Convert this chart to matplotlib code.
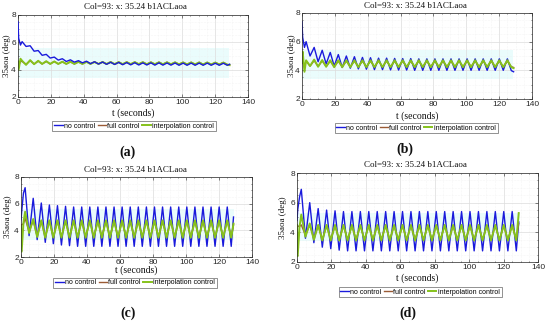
import matplotlib
matplotlib.use("Agg")
import matplotlib.pyplot as plt
from matplotlib.ticker import MultipleLocator

W, H = 550, 321

# time knots (s): start transient, then alternating peak / trough, then end
t_knots = [0.0, 0.4, 1.5,
           2.5, 4.9, 7.4, 9.8, 12.3, 14.7, 17.2, 19.6, 22.1, 24.5,
           27.0, 29.4, 31.9, 34.3, 36.8, 39.2, 41.7, 44.1, 46.6, 49.0,
           51.5, 53.9, 56.4, 58.8, 61.3, 63.7, 66.2, 68.6, 71.1, 73.5,
           76.0, 78.4, 80.9, 83.3, 85.8, 88.2, 90.7, 93.1, 95.6, 98.0,
           100.5, 102.9, 105.4, 107.8, 110.3, 112.7, 115.2, 117.6, 120.1, 122.5,
           125.0, 127.4, 128.8]

# panel (a)
no_ctrl_a = [7.5, 6.3, 5.8,
             6.05, 5.7, 5.75, 5.35, 5.4, 5.05, 5.12, 4.85, 4.92, 4.7,
             4.8, 4.6, 4.72, 4.55, 4.66, 4.5, 4.62, 4.44, 4.58, 4.41,
             4.56, 4.39, 4.54, 4.38, 4.53, 4.36, 4.52, 4.35, 4.51, 4.34,
             4.5, 4.34, 4.5, 4.33, 4.5, 4.33, 4.49, 4.33, 4.49, 4.32,
             4.48, 4.32, 4.48, 4.32, 4.48, 4.32, 4.48, 4.32, 4.47, 4.32,
             4.47, 4.32, 4.4]
interp_a = [4.6, 4.0, 4.8,
            4.65, 4.35, 4.7, 4.4, 4.65, 4.42, 4.62, 4.42, 4.6, 4.42,
            4.58, 4.42, 4.58, 4.42, 4.57, 4.42, 4.57, 4.42, 4.56, 4.42,
            4.56, 4.42, 4.56, 4.41, 4.55, 4.41, 4.55, 4.41, 4.55, 4.41,
            4.55, 4.4, 4.54, 4.4, 4.54, 4.4, 4.54, 4.4, 4.54, 4.39,
            4.53, 4.39, 4.53, 4.39, 4.53, 4.38, 4.53, 4.38, 4.52, 4.38,
            4.52, 4.37, 4.33]
full_a = [4.5, 4.3, 4.6,
          4.6, 4.4, 4.65, 4.42, 4.62, 4.42, 4.6, 4.42, 4.6, 4.42,
          4.58, 4.42, 4.58, 4.42, 4.58, 4.42, 4.58, 4.42, 4.57, 4.42,
          4.57, 4.41, 4.57, 4.4, 4.56, 4.4, 4.56, 4.4, 4.56, 4.4,
          4.55, 4.4, 4.55, 4.4, 4.55, 4.39, 4.55, 4.39, 4.54, 4.39,
          4.54, 4.38, 4.54, 4.38, 4.54, 4.38, 4.53, 4.38, 4.53, 4.38,
          4.53, 4.37, 4.35]

# panel (b)
no_ctrl_b = [7.4, 6.3, 5.6,
             6.0, 5.0, 5.6, 4.6, 5.4, 4.45, 5.25, 4.3, 5.1, 4.2,
             5.0, 4.15, 4.95, 4.1, 4.9, 4.08, 4.88, 4.05, 4.85, 4.05,
             4.85, 4.03, 4.83, 4.02, 4.82, 4.02, 4.82, 4.0, 4.8, 4.0,
             4.8, 4.0, 4.8, 4.0, 4.8, 4.0, 4.8, 4.0, 4.8, 4.0,
             4.8, 4.0, 4.8, 4.0, 4.8, 4.0, 4.8, 4.0, 4.8, 4.0,
             4.8, 3.98, 3.9]
interp_b = [4.5, 5.3, 3.9,
            4.7, 4.3, 4.75, 4.25, 4.72, 4.25, 4.7, 4.22, 4.7, 4.22,
            4.7, 4.22, 4.7, 4.22, 4.7, 4.22, 4.7, 4.22, 4.7, 4.22,
            4.7, 4.22, 4.7, 4.22, 4.7, 4.22, 4.7, 4.22, 4.7, 4.22,
            4.7, 4.22, 4.7, 4.22, 4.7, 4.22, 4.7, 4.22, 4.7, 4.22,
            4.7, 4.22, 4.7, 4.22, 4.7, 4.22, 4.7, 4.22, 4.7, 4.22,
            4.7, 4.22, 4.15]
full_b = [4.5, 4.8, 4.2,
          4.65, 4.3, 4.68, 4.28, 4.66, 4.27, 4.65, 4.25, 4.65, 4.25,
          4.65, 4.25, 4.65, 4.25, 4.65, 4.25, 4.65, 4.25, 4.65, 4.25,
          4.65, 4.25, 4.65, 4.25, 4.65, 4.25, 4.65, 4.25, 4.65, 4.25,
          4.65, 4.25, 4.65, 4.25, 4.65, 4.25, 4.65, 4.25, 4.65, 4.25,
          4.65, 4.25, 4.65, 4.25, 4.65, 4.25, 4.65, 4.25, 4.65, 4.25,
          4.65, 4.25, 4.2]

# panel (c)
no_ctrl_c = [4.8, 5.4, 6.8,
             7.2, 3.6, 6.4, 3.3, 6.05, 3.1, 5.9, 3.0, 5.85, 2.9,
             5.8, 2.85, 5.75, 2.8, 5.75, 2.8, 5.75, 2.8, 5.75, 2.8,
             5.75, 2.8, 5.75, 2.8, 5.75, 2.8, 5.75, 2.8, 5.75, 2.8,
             5.75, 2.8, 5.75, 2.8, 5.75, 2.8, 5.75, 2.8, 5.75, 2.8,
             5.75, 2.8, 5.75, 2.8, 5.75, 2.8, 5.75, 2.8, 5.75, 2.8,
             5.75, 2.8, 5.0]
interp_c = [4.3, 2.4, 4.6,
            5.4, 3.8, 4.85, 3.5, 4.75, 3.45, 4.75, 3.45, 4.75, 3.45,
            4.75, 3.45, 4.75, 3.45, 4.75, 3.45, 4.75, 3.45, 4.75, 3.45,
            4.75, 3.45, 4.75, 3.45, 4.75, 3.45, 4.75, 3.45, 4.75, 3.45,
            4.75, 3.45, 4.75, 3.45, 4.75, 3.45, 4.75, 3.45, 4.75, 3.45,
            4.75, 3.45, 4.75, 3.45, 4.75, 3.45, 4.75, 3.45, 4.75, 3.45,
            4.75, 3.45, 4.5]
full_c = [4.4, 4.4, 4.5,
          4.9, 3.9, 4.75, 3.55, 4.7, 3.5, 4.7, 3.5, 4.7, 3.5,
          4.7, 3.5, 4.7, 3.5, 4.7, 3.5, 4.7, 3.5, 4.7, 3.5,
          4.7, 3.5, 4.7, 3.5, 4.7, 3.5, 4.7, 3.5, 4.7, 3.5,
          4.7, 3.5, 4.7, 3.5, 4.7, 3.5, 4.7, 3.5, 4.7, 3.5,
          4.7, 3.5, 4.7, 3.5, 4.7, 3.5, 4.7, 3.5, 4.7, 3.5,
          4.7, 3.5, 4.4]

# panel (d)
no_ctrl_d = [4.8, 5.5, 6.4,
             6.9, 3.6, 6.0, 3.3, 5.6, 3.0, 5.5, 2.9, 5.45, 2.8,
             5.4, 2.75, 5.4, 2.75, 5.4, 2.75, 5.4, 2.75, 5.4, 2.75,
             5.4, 2.75, 5.4, 2.75, 5.4, 2.75, 5.4, 2.75, 5.4, 2.75,
             5.4, 2.75, 5.4, 2.75, 5.4, 2.75, 5.4, 2.75, 5.4, 2.75,
             5.4, 2.75, 5.4, 2.75, 5.4, 2.75, 5.4, 2.75, 5.4, 2.75,
             5.4, 2.75, 4.7]
interp_d = [4.5, 2.4, 4.4,
            5.2, 3.7, 4.6, 3.5, 4.5, 3.45, 4.5, 3.45, 4.5, 3.45,
            4.5, 3.45, 4.5, 3.45, 4.5, 3.45, 4.5, 3.45, 4.5, 3.45,
            4.5, 3.45, 4.5, 3.45, 4.5, 3.45, 4.5, 3.45, 4.5, 3.45,
            4.5, 3.45, 4.5, 3.45, 4.5, 3.45, 4.5, 3.45, 4.5, 3.45,
            4.5, 3.45, 4.5, 3.45, 4.5, 3.45, 4.5, 3.45, 4.5, 3.45,
            4.5, 3.45, 5.3]
full_d = [4.4, 4.4, 4.4,
          4.5, 3.8, 4.5, 3.55, 4.45, 3.5, 4.45, 3.5, 4.45, 3.5,
          4.45, 3.5, 4.45, 3.5, 4.45, 3.5, 4.45, 3.5, 4.45, 3.5,
          4.45, 3.5, 4.45, 3.5, 4.45, 3.5, 4.45, 3.5, 4.45, 3.5,
          4.45, 3.5, 4.45, 3.5, 4.45, 3.5, 4.45, 3.5, 4.45, 3.5,
          4.45, 3.5, 4.45, 3.5, 4.45, 3.5, 4.45, 3.5, 4.45, 3.5,
          4.45, 3.5, 4.6]

# faint cyan band behind the traces (low, high, t_end)
band_lo = [3.4, 3.4, 3.3, 3.4]
band_hi = [5.55, 5.4, 5.6, 5.3]
band_t = [128.5, 128.5, 129.0, 129.5]

series_names = ["no control", "full control", "interpolation control"]
panel_tags = ["(a)", "(b)", "(c)", "(d)"]
title_text = "Col=93: x: 35.24 b1ACLaoa"

# layout in pixels: axes box (left, top, right, bottom), title, xlabel, ylabel x,
# legend centre, tag position
layout = [
    dict(box=(18, 15, 248, 97), title=(135, 7), xlab=(133, 113), ylab=7, leg=(134, 126), tag=(128, 152)),
    dict(box=(302, 13, 532, 99), title=(415, 6), xlab=(417, 116), ylab=292, leg=(416, 128), tag=(405, 149)),
    dict(box=(21, 177, 252, 257), title=(135, 170), xlab=(136, 270), ylab=8, leg=(135, 283), tag=(128, 313)),
    dict(box=(297, 173, 538, 262), title=(415, 165), xlab=(417, 278), ylab=283, leg=(420, 292), tag=(408, 313)),
]

data = [
    (no_ctrl_a, full_a, interp_a),
    (no_ctrl_b, full_b, interp_b),
    (no_ctrl_c, full_c, interp_c),
    (no_ctrl_d, full_d, interp_d),
]

colors = ["#1a1adc", "#9a5b35", "#86c21c"]
widths = [1.0, 1.0, 1.4]
blue_on_top = [True, False, False, False]

serif = ["Liberation Serif", "DejaVu Serif"]
sans = ["Liberation Sans", "DejaVu Sans"]


def fx(x):
    return x / W


def fy(y):
    return 1 - y / H


fig = plt.figure(figsize=(W / 100, H / 100), dpi=100)
fig.patch.set_facecolor("white")

for i, (lay, series) in enumerate(zip(layout, data)):
    l, t, r, b = lay["box"]
    ax = fig.add_axes([fx(l), fy(b), (r - l) / W, (b - t) / H])
    ax.fill_between([0, band_t[i]], band_lo[i], band_hi[i], color="#eafcfc", lw=0, zorder=0)
    handles = []
    for k, (vals, c, lw, name) in enumerate(zip(series, colors, widths, series_names)):
        z = 4 if (k == 0 and blue_on_top[i]) else 2
        h, = ax.plot(t_knots, vals, color=c, lw=lw, label=name, zorder=z)
        handles.append(h)
    ax.set_xlim(0, 140)
    ax.set_ylim(2, 8)
    ax.xaxis.set_major_locator(MultipleLocator(20))
    ax.xaxis.set_minor_locator(MultipleLocator(5))
    ax.yaxis.set_major_locator(MultipleLocator(2))
    ax.yaxis.set_minor_locator(MultipleLocator(0.5))
    ax.grid(which="major", color="#dcdcdc", lw=0.5)
    ax.grid(which="minor", color="#ededed", lw=0.4, ls=":")
    ax.set_axisbelow(True)
    ax.tick_params(which="both", direction="in", length=2, width=0.4, colors="#262626",
                   labelsize=6, pad=1.5, top=True, right=True)
    ax.tick_params(which="minor", length=1)
    for lab in ax.get_xticklabels() + ax.get_yticklabels():
        lab.set_family(sans)
    for sp in ax.spines.values():
        sp.set_linewidth(0.5)
        sp.set_color("#262626")

    fig.text(fx(lay["title"][0]), fy(lay["title"][1]), title_text, family=serif,
             fontsize=6.5, ha="center", va="center", color="#111111")
    fig.text(fx(lay["xlab"][0]), fy(lay["xlab"][1]), "t (seconds)", family=serif,
             fontsize=7, ha="center", va="center", color="#111111")
    fig.text(fx(lay["ylab"]), fy((t + b) / 2), "35aoa (deg)", family=serif,
             fontsize=6.5, ha="center", va="center", rotation=90, color="#111111")
    fig.text(fx(lay["tag"][0]), fy(lay["tag"][1]), panel_tags[i], family=serif,
             fontsize=10, fontweight="bold", ha="center", va="center", color="#111111")

    leg = ax.legend(handles=handles, loc="center",
                    bbox_to_anchor=(fx(lay["leg"][0]), fy(lay["leg"][1])),
                    bbox_transform=fig.transFigure, ncol=3,
                    prop={"family": sans, "size": 5.0},
                    handlelength=1.2, handletextpad=0.2, columnspacing=0.35,
                    borderpad=0.25, borderaxespad=0, frameon=True, fancybox=False,
                    edgecolor="#404040")
    leg.get_frame().set_linewidth(0.5)

plt.savefig("out.png", dpi=100)
plt.close(fig)
